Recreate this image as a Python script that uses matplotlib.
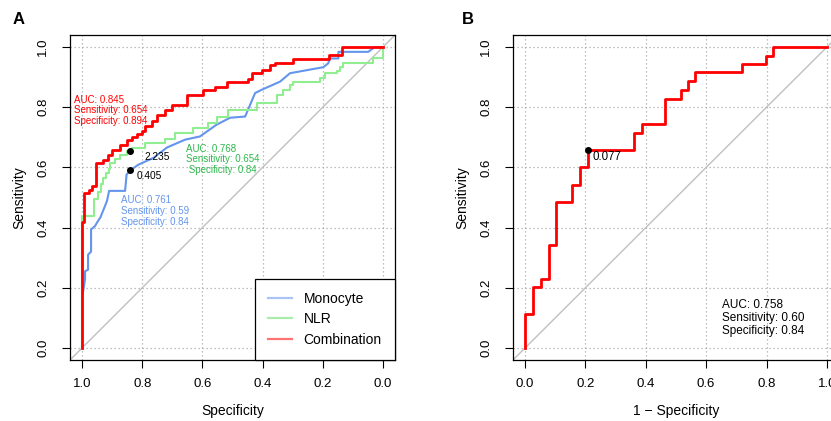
import matplotlib
matplotlib.use("Agg")
import matplotlib.pyplot as plt
import numpy as np

plt.rcParams["font.family"] = ["Liberation Sans", "DejaVu Sans"]

# --------------------------------------------------------------------------
# Panel A : ROC points (1 - specificity, sensitivity)
# --------------------------------------------------------------------------
mono_fpr = [0, 0, 0.004, 0.01, 0.01, 0.02, 0.02, 0.03, 0.03, 0.043, 0.05, 0.061,
            0.072, 0.083, 0.09, 0.143, 0.148, 0.16, 0.187, 0.238, 0.282, 0.342,
            0.392, 0.447, 0.492, 0.542, 0.575, 0.597, 0.658, 0.691, 0.802, 0.818,
            0.824, 0.852, 0.852, 0.951, 0.973, 1.0]
mono_sens = [0, 0.172, 0.19, 0.228, 0.255, 0.26, 0.31, 0.32, 0.394, 0.405, 0.417,
             0.434, 0.461, 0.489, 0.522, 0.522, 0.576, 0.59, 0.609, 0.632, 0.666,
             0.692, 0.703, 0.742, 0.765, 0.769, 0.847, 0.858, 0.885, 0.913, 0.933,
             0.946, 0.962, 0.962, 0.984, 0.984, 1.0, 1.0]

# step curves : at each fpr the sensitivity jumps to the given value
nlr_fpr = [0, 0, 0.039, 0.052, 0.063, 0.070, 0.078, 0.089, 0.094, 0.111, 0.127,
           0.150, 0.166, 0.209, 0.276, 0.309, 0.369, 0.419, 0.448, 0.485, 0.581,
           0.648, 0.668, 0.691, 0.701, 0.791, 0.807, 0.847, 0.857, 0.867, 0.967, 1.0]
nlr_sens = [0, 0.44, 0.494, 0.517, 0.545, 0.566, 0.583, 0.594, 0.616, 0.627, 0.640,
            0.653, 0.666, 0.682, 0.695, 0.715, 0.732, 0.748, 0.768, 0.791, 0.815,
            0.841, 0.858, 0.874, 0.884, 0.897, 0.914, 0.92, 0.934, 0.947, 0.964, 1.0]

comb_fpr = [0, 0, 0.008, 0.023, 0.032, 0.045, 0.048, 0.07, 0.087, 0.099, 0.126,
            0.15, 0.165, 0.181, 0.198, 0.209, 0.231, 0.248, 0.276, 0.298, 0.350,
            0.403, 0.442, 0.481, 0.553, 0.564, 0.597, 0.625, 0.641, 0.702, 0.822,
            0.863, 1.0]
comb_sens = [0, 0.42, 0.516, 0.526, 0.537, 0.55, 0.613, 0.626, 0.642, 0.659, 0.675,
             0.69, 0.70, 0.71, 0.72, 0.736, 0.753, 0.775, 0.791, 0.808, 0.841,
             0.858, 0.868, 0.884, 0.895, 0.913, 0.924, 0.940, 0.948, 0.959, 0.974,
             1.0, 1.0]

# best thresholds (specificity, sensitivity, label)
cut_spec = [0.84, 0.84]
cut_sens = [0.654, 0.59]
cut_lab = ["2.235", "0.405"]

legend_names = ["Monocyte", "NLR", "Combination"]

# --------------------------------------------------------------------------
# Panel B
# --------------------------------------------------------------------------
b_fpr = [0, 0, 0.0265, 0.052, 0.080, 0.104, 0.155, 0.181, 0.207, 0.361, 0.386,
         0.463, 0.516, 0.540, 0.564, 0.718, 0.798, 0.823, 1.0]
b_sens = [0, 0.114, 0.202, 0.230, 0.342, 0.486, 0.543, 0.602, 0.657, 0.713, 0.743,
          0.828, 0.857, 0.886, 0.916, 0.944, 0.971, 1.0, 1.0]
b_cut = (0.207, 0.657, "0.077")

ticks = [0.0, 0.2, 0.4, 0.6, 0.8, 1.0]
tick_lab = ["0.0", "0.2", "0.4", "0.6", "0.8", "1.0"]

BLUE = "#6495ED"
GREEN = "#90EE90"
GREEN_TXT = "#2DB84D"
RED = "#FF0000"


def habillage(ax):
    ax.set_ylim(-0.04, 1.04)
    ax.set_yticks(ticks)
    ax.set_yticklabels(tick_lab, rotation=90, va="center")
    ax.set_xticks(ticks)
    ax.set_xticklabels(tick_lab)
    ax.tick_params(direction="out", length=6, width=0.8, labelsize=9.5)
    ax.tick_params(axis="y", pad=8.8)
    ax.tick_params(axis="x", pad=7.3)
    for v in ticks:
        ax.axhline(v, color="#aaaaaa", lw=0.9, ls=(0, (1, 2.2)), zorder=0)
        ax.axvline(v, color="#aaaaaa", lw=0.9, ls=(0, (1, 2.2)), zorder=0)
    for s in ax.spines.values():
        s.set_linewidth(0.9)
    ax.set_ylabel("Sensitivity", fontsize=10, labelpad=8)


fig = plt.figure(figsize=(8.31, 4.21), dpi=100)

# ---------------------------------------------------------------- panel A
ax = fig.add_axes([70 / 831, 61 / 421, 325 / 831, 325 / 421])
ax.set_xlim(1.04, -0.04)
habillage(ax)
ax.axline((1, 0), (0, 1), color="#c0c0c0", lw=1, zorder=1)

ax.plot(1 - np.asarray(mono_fpr), mono_sens, color=BLUE, lw=1.5, zorder=3)
ax.plot(1 - np.asarray(nlr_fpr), nlr_sens, color=GREEN, lw=1.5,
        drawstyle="steps-post", zorder=3)
ax.plot(1 - np.asarray(comb_fpr), comb_sens, color=RED, lw=2,
        drawstyle="steps-post", zorder=4)

ax.plot(cut_spec, cut_sens, "o", color="black", ms=4, zorder=5)
ax.text(0.791, 0.636, cut_lab[0], fontsize=7.3, va="center", ha="left")
ax.text(0.817, 0.571, cut_lab[1], fontsize=7.3, va="center", ha="left")

for txt, y in zip(["AUC: 0.845", "Sensitivity: 0.654", "Specificity: 0.894"],
                  [0.824, 0.790, 0.755]):
    ax.text(1.027, y, txt, color=RED, fontsize=7.0, va="center", ha="left")
for txt, y in zip(["AUC: 0.768", "Sensitivity: 0.654", " Specificity: 0.84"],
                  [0.662, 0.628, 0.593]):
    ax.text(0.654, y, txt, color=GREEN_TXT, fontsize=7.0, va="center", ha="left")
for txt, y in zip(["AUC: 0.761", "Sensitivity: 0.59", "Specificity: 0.84"],
                  [0.491, 0.455, 0.420]):
    ax.text(0.871, y, txt, color=BLUE, fontsize=7.0, va="center", ha="left")

handles = [plt.Line2D([], [], color=c, lw=1.6, alpha=0.55)
           for c in [BLUE, "#66DD66", RED]]
leg = ax.legend(handles, legend_names, loc="lower right", bbox_to_anchor=(1, 0),
                borderaxespad=0, fancybox=False, edgecolor="black", framealpha=1,
                fontsize=10, handlelength=1.7, handletextpad=0.85,
                borderpad=0.95, labelspacing=0.47)
leg.get_frame().set_linewidth(0.9)
ax.set_xlabel("Specificity", fontsize=10, labelpad=10)

# ---------------------------------------------------------------- panel B
bx = fig.add_axes([513 / 831, 61 / 421, 326 / 831, 325 / 421])
bx.set_xlim(-0.04, 1.04)
habillage(bx)
bx.axline((0, 0), (1, 1), color="#c0c0c0", lw=1, zorder=1)
bx.plot(b_fpr, b_sens, color=RED, lw=2, drawstyle="steps-post", zorder=3)
bx.plot([b_cut[0]], [b_cut[1]], "o", color="black", ms=4, zorder=5)
bx.text(0.224, 0.633, b_cut[2], fontsize=8.3, va="center", ha="left")
for txt, y in zip(["AUC: 0.758", "Sensitivity: 0.60", "Specificity: 0.84"],
                  [0.143, 0.101, 0.055]):
    bx.text(0.654, y, txt, fontsize=8.5, va="center", ha="left")
bx.set_xlabel("1 \u2212 Specificity", fontsize=10, labelpad=10)

fig.text(13 / 831, 1 - 20 / 421, "A", fontsize=12, fontweight="bold", va="center")
fig.text(462 / 831, 1 - 20 / 421, "B", fontsize=12, fontweight="bold", va="center")

fig.savefig("out.png", dpi=100)
